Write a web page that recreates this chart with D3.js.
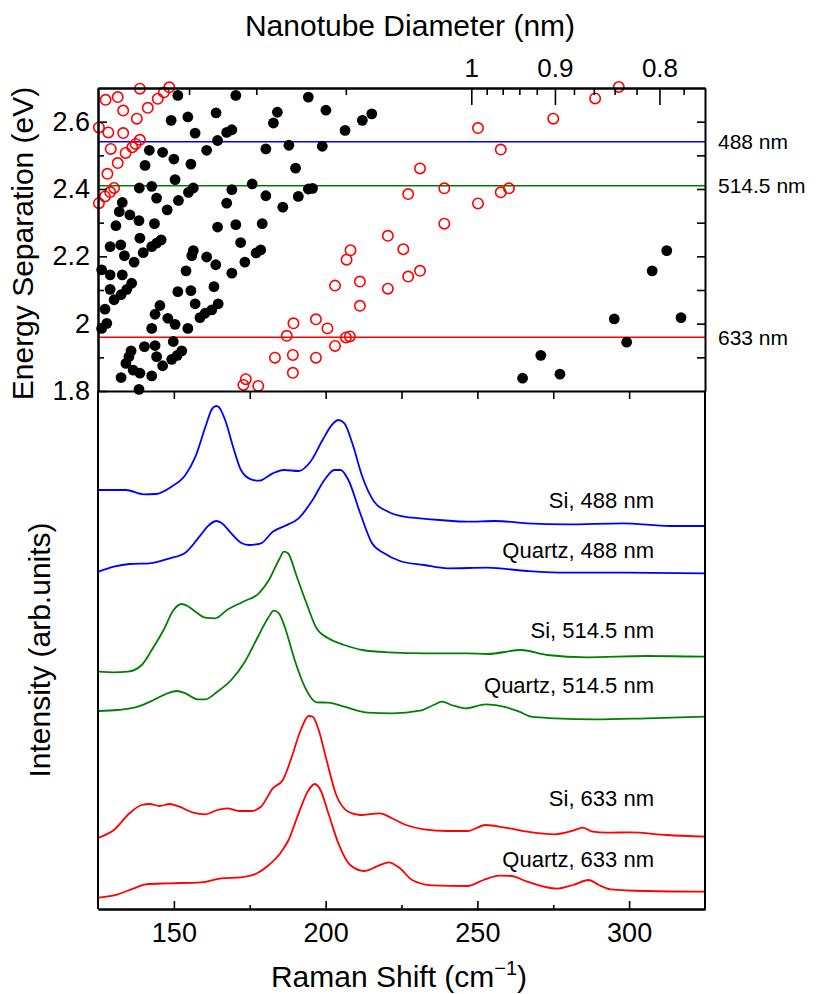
<!DOCTYPE html>
<html>
<head>
<meta charset="utf-8">
<script src="https://cdn.jsdelivr.net/npm/d3@7"></script>
<style>
  body { margin: 0; background: #fff; }
  svg text { font-family: "Liberation Sans", Arial, Helvetica, sans-serif; fill: #000; }
</style>
</head>
<body>
<svg id="chart" width="824" height="994"></svg>
<script>
// Kataura-type plot: black = filled dots, red = open circles (Raman shift cm-1, energy eV)
const blackPoints = [
  [151.3,2.678],[170.4,2.678],[194.3,2.673],[200.1,2.634],[149.1,2.604],[154.6,2.614],[163.9,2.626],[184.1,2.628],
  [182.8,2.596],[206.4,2.574],[157.0,2.566],[169.1,2.576],[167.4,2.568],[164.4,2.544],[160.8,2.515],[141.9,2.515],
  [146.3,2.509],[150.0,2.489],[140.5,2.470],[155.6,2.474],[180.3,2.519],[187.9,2.530],[198.9,2.527],[190.1,2.462],
  [150.4,2.428],[142.7,2.408],[138.6,2.403],[156.4,2.403],[154.8,2.390],[151.5,2.366],[144.3,2.373],[147.8,2.338],
  [169.1,2.398],[167.4,2.358],[175.8,2.415],[180.3,2.380],[185.9,2.346],[191.0,2.378],[194.3,2.400],[195.7,2.402],
  [133.0,2.360],[132.0,2.333],[135.5,2.323],[138.5,2.306],[130.9,2.291],[143.6,2.297],[138.8,2.254],[145.8,2.249],
  [144.3,2.239],[142.7,2.229],[139.9,2.211],[129.0,2.229],[132.5,2.234],[133.7,2.202],[136.9,2.183],[164.4,2.287],
  [170.4,2.294],[172.0,2.241],[179.1,2.297],[178.6,2.219],[177.1,2.210],[173.4,2.183],[169.1,2.150],[163.8,2.175],
  [160.8,2.198],[156.4,2.217],[155.9,2.202],[154.0,2.157],[126.2,2.160],[129.0,2.145],[133.0,2.145],[129.0,2.102],
  [136.1,2.120],[134.5,2.102],[132.6,2.086],[130.3,2.071],[151.3,2.095],[155.6,2.098],[163.2,2.110],[157.0,2.059],
  [164.6,2.059],[162.5,2.041],[160.3,2.031],[158.6,2.018],[145.4,2.054],[143.8,2.028],[148.0,2.016],[150.4,1.998],
  [154.6,1.986],[142.7,1.986],[127.3,2.043],[127.9,2.001],[126.2,1.986],[140.3,1.932],[143.8,1.935],[135.9,1.919],
  [135.2,1.902],[134.2,1.882],[144.3,1.902],[146.3,1.875],[149.8,1.947],[152.6,1.919],[151.1,1.906],[149.3,1.894],
  [136.6,1.862],[138.8,1.853],[142.7,1.845],[132.6,1.840],[138.5,1.805],[212.1,2.604],[215.2,2.623],[264.9,1.838],
  [270.9,1.906],[277.2,1.850],[295.1,2.014],[299.2,1.945],[307.6,2.157],[312.4,2.217],[317.1,2.018]
];
const redPoints = [
  [127.5,2.665],[131.5,2.673],[138.8,2.698],[133.3,2.633],[137.8,2.609],[141.4,2.641],[144.7,2.668],[146.7,2.687],
  [148.5,2.702],[125.3,2.583],[128.4,2.568],[133.3,2.566],[129.2,2.519],[134.1,2.507],[136.3,2.524],[137.4,2.534],
  [138.8,2.546],[131.5,2.477],[128.1,2.445],[130.3,2.403],[129.0,2.391],[127.3,2.378],[125.3,2.358],[172.9,1.818],
  [173.7,1.835],[177.8,1.815],[183.3,1.899],[189.2,1.907],[189.2,1.854],[187.2,1.964],[189.4,2.001],[196.8,1.899],
  [196.8,2.013],[200.6,1.986],[203.1,1.934],[206.7,1.959],[208.0,1.962],[203.1,2.113],[206.9,2.190],[208.2,2.218],
  [211.3,2.125],[211.3,2.053],[220.5,2.261],[220.5,2.104],[225.6,2.221],[227.2,2.140],[231.1,2.157],[231.1,2.461],
  [227.2,2.385],[239.1,2.402],[239.1,2.297],[250.2,2.581],[250.2,2.357],[257.7,2.517],[257.7,2.390],[260.4,2.402],
  [275.0,2.609],[288.8,2.669],[296.6,2.703]
];

const laserEnergies = [2.54, 2.41, 1.96];
const laserNames = ["488 nm", "514.5 nm", "633 nm"];
const laserColors = ["#0000ff", "#008000", "#ff0000"];

// diameter axis: omega = 248 / d
const diamConst = 248;
const diamMajor = [1, 0.9, 0.8];
const diamMajorLabels = ["1", "0.9", "0.8"];
const diamMinor = [1.6, 1.4, 1.2, 0.98, 0.96, 0.94, 0.92, 0.88, 0.86, 0.84, 0.82, 0.78];

const energyMajor = [1.8, 2.0, 2.2, 2.4, 2.6];
const energyMinor = [1.9, 2.1, 2.3, 2.5];
const energyRight = [1.9, 2.0, 2.1, 2.2, 2.3, 2.4, 2.5, 2.6];
const shiftMajor = [150, 200, 250, 300];
const shiftMinor = [175, 225, 275];
const shiftMid = [150, 175, 200, 225, 250, 275, 300];

// spectra [Raman shift, intensity incl. offset] (arb. units)
const si488 = [[125.2,419],[134.2,419],[140.1,414.7],[144.0,415],[149.2,422.3],[153.8,434],[157.1,452.3],[160.4,482.3],
  [162.7,500.7],[164.0,503],[164.9,501.7],[166.9,489],[169.5,462.3],[172.1,439],[175.4,429.7],[178.0,428.3],[182.6,435.7],
  [186.2,439],[191.1,438],[195.0,447.3],[199.0,469],[202.3,485],[204.2,489],[206.2,485.7],[208.8,465.7],[212.1,432.3],
  [216.0,407.3],[220.6,397.3],[225.8,392.3],[231.1,390.7],[237.6,389],[246.8,387.3],[255.9,388],[266.4,385.7],
  [279.5,384.7],[297.8,385.7],[313.6,383],[325,383]];
const quartz488 = [[125.2,337.3],[130.2,342.3],[135.4,345],[142.0,345.7],[148.6,350.7],[153.8,356.3],[158.4,372.3],
  [161.6,384],[164.0,388],[165.6,386.3],[168.9,375.7],[172.1,366.3],[174.8,364],[178.7,365.7],[182.6,377.3],[186.5,383],
  [191.1,390.7],[195.7,409],[199.6,429],[202.9,439],[204.9,439],[207.5,429],[211.4,395.7],[215.3,365.7],[219.3,355.7],
  [224.5,348],[232.4,344],[240.2,340.7],[253.3,341.3],[266.4,338],[279.5,336.3],[299.2,336.3],[325,335.7]];
const si514 = [[125.2,237.3],[130.2,236.7],[134.8,237.3],[139.4,244],[142.7,259],[146.6,279],[149.9,299],[152.5,305],
  [154.5,303],[157.1,297.3],[160.4,291.3],[163.6,290.7],[167.5,299],[172.8,307.3],[178.0,315.7],[181.3,329],[184.6,349],
  [186.3,357.3],[187.6,355.7],[190.5,332.3],[193.7,305.7],[197.0,280.7],[200.9,270.7],[206.2,264],[212.1,259],
  [220.6,256.7],[233.7,255.7],[246.8,255.7],[253.3,255],[264.5,259],[273.0,254],[286.1,251.7],[305.7,253],[325,252.3]];
const quartz514 = [[125.2,198],[131.5,199],[138.1,202.3],[143.3,209],[147.9,215.7],[150.9,218],[153.8,215.7],
  [157.7,209.7],[160.4,209.7],[164.3,217.3],[168.9,229],[173.4,247.3],[178.0,274],[181.3,292.3],[182.9,298.3],
  [184.6,295.7],[186.5,282.3],[189.8,249],[193.1,222.3],[197.0,206.7],[200.9,206.3],[206.2,202.3],[214.0,196.3],
  [221.9,195.7],[231.1,198.3],[235.6,204],[238.3,207.3],[241.5,204],[246.1,200.7],[252.7,204.7],[258.6,202.3],
  [263.8,197.3],[267.7,192.3],[275.6,190.7],[288.7,189.7],[305.7,190.7],[325,192.3]];
const si633 = [[125.2,71.3],[130.2,79],[135.4,95.7],[139.4,104],[142.0,105],[145.3,103],[148.6,105],[151.8,102.3],
  [156.4,96.3],[160.4,94.7],[164.3,99],[167.5,100.7],[171.5,98],[175.4,98],[178.7,102.3],[182.6,120.7],[185.9,129],
  [188.5,149],[191.8,179],[194.4,193],[195.7,192.3],[197.7,179],[200.3,149],[203.5,114],[207.5,97.3],[211.4,94],
  [217.9,95.7],[221.9,90.7],[226.5,84],[232.4,79.7],[240.2,78],[246.8,78],[252.7,84],[258.6,81.7],[266.4,77.3],
  [275.6,74.7],[281.5,78.3],[284.7,81.3],[288.0,77.3],[292.6,76.3],[300.5,76.7],[312.3,74],[325,72.3]];
const quartz633 = [[125.2,11.3],[131.5,14.7],[136.8,20.7],[140.7,24.7],[148.6,25.7],[159.0,26.7],[165.6,30.7],
  [172.1,31.7],[177.4,35.7],[181.3,44],[185.2,56.3],[187.8,69],[191.1,95.7],[194.4,119],[196.4,125],[198.3,119],
  [200.9,95.7],[204.2,65.7],[208.1,44],[212.7,38],[216.7,42.3],[220.8,46.7],[224.5,40.7],[228.5,29],[235.0,23.7],
  [246.8,23],[252.0,29],[257.3,33.3],[261.2,33],[266.4,27.3],[276.2,20.3],[281.5,24],[286.7,29],[290.0,24],
  [293.9,19.7],[305.7,18],[325,17.3]];

const spectra = [si488, quartz488, si514, quartz514, si633, quartz633];
const spectrumNames = ["Si, 488 nm", "Quartz, 488 nm", "Si, 514.5 nm", "Quartz, 514.5 nm", "Si, 633 nm", "Quartz, 633 nm"];
const spectrumColors = ["#0000ff", "#0000ff", "#008000", "#008000", "#ff0000", "#ff0000"];
const labelShift = 308.2;
const labelIntensity = [401, 351, 271, 216, 103, 42];

const left = 98, right = 705, topY = 88, midY = 391, bottomY = 909;

const svg = d3.select("#chart");

const x = d3.scaleLinear().domain([125, 325]).range([left, right]);
const yE = d3.scaleLinear().domain([1.8, 2.7]).range([midY, topY]);
const yI = d3.scaleLinear().domain([0, 518]).range([bottomY, midY]);

function styleAxis(g, fontSize) {
  g.selectAll("path.domain").attr("stroke", "#000").attr("stroke-width", 2);
  g.selectAll(".tick line").attr("stroke", "#000").attr("stroke-width", 1.6);
  g.selectAll(".tick text").attr("font-size", fontSize).attr("font-family", null).attr("fill", "#000");
  g.attr("font-family", null);
}

// ---- top panel ----
svg.append("g")
  .selectAll("line")
  .data(laserEnergies)
  .join("line")
  .attr("x1", left).attr("x2", right)
  .attr("y1", d => yE(d)).attr("y2", d => yE(d))
  .attr("stroke", (d, i) => laserColors[i])
  .attr("stroke-width", 1.5);

svg.append("g")
  .selectAll("circle")
  .data(blackPoints)
  .join("circle")
  .attr("cx", d => x(d[0]))
  .attr("cy", d => yE(d[1]))
  .attr("r", 5.4)
  .attr("fill", "#000");

svg.append("g")
  .selectAll("circle")
  .data(redPoints)
  .join("circle")
  .attr("cx", d => x(d[0]))
  .attr("cy", d => yE(d[1]))
  .attr("r", 5.2)
  .attr("fill", "none")
  .attr("stroke", "#ff0000")
  .attr("stroke-width", 1.6);

// left energy axis
svg.append("g")
  .attr("transform", `translate(${left},0)`)
  .call(d3.axisLeft(yE).tickValues(energyMajor).tickSize(-9).tickSizeOuter(0).tickPadding(8).tickFormat(d3.format("~g")))
  .call(g => styleAxis(g, 27));
svg.append("g")
  .attr("transform", `translate(${left},0)`)
  .call(d3.axisLeft(yE).tickValues(energyMinor).tickSize(-6).tickSizeOuter(0).tickFormat(""))
  .call(g => styleAxis(g, 27));

// right energy axis
svg.append("g")
  .attr("transform", `translate(${right},0)`)
  .call(d3.axisRight(yE).tickValues(energyRight).tickSize(-8).tickSizeOuter(0).tickFormat(""))
  .call(g => styleAxis(g, 27));

// top diameter axis
svg.append("g")
  .attr("transform", `translate(0,${topY})`)
  .call(d3.axisTop(x).tickValues(diamMajor.map(d => diamConst / d)).tickSize(-17).tickSizeOuter(0)
    .tickPadding(11).tickFormat((d, i) => diamMajorLabels[i]))
  .call(g => styleAxis(g, 26));
svg.append("g")
  .attr("transform", `translate(0,${topY})`)
  .call(d3.axisTop(x).tickValues(diamMinor.map(d => diamConst / d)).tickSize(-7).tickSizeOuter(0).tickFormat(""))
  .call(g => styleAxis(g, 26));

// panel separator with ticks into lower panel
svg.append("g")
  .attr("transform", `translate(0,${midY})`)
  .call(d3.axisBottom(x).tickValues(shiftMid).tickSize(8).tickSizeOuter(0).tickFormat(""))
  .call(g => styleAxis(g, 27));

// right-side laser labels
svg.append("g")
  .selectAll("text")
  .data(laserNames)
  .join("text")
  .attr("x", right + 13)
  .attr("y", (d, i) => yE(laserEnergies[i]) + 7.5)
  .attr("font-size", 21)
  .text(d => d);

// ---- bottom panel ----
const line = d3.line()
  .x(d => x(d[0]))
  .y(d => yI(d[1]))
  .curve(d3.curveMonotoneX);

svg.append("g")
  .selectAll("path")
  .data(spectra)
  .join("path")
  .attr("d", line)
  .attr("fill", "none")
  .attr("stroke", (d, i) => spectrumColors[i])
  .attr("stroke-width", 1.8);

svg.append("g")
  .selectAll("text")
  .data(spectrumNames)
  .join("text")
  .attr("x", x(labelShift))
  .attr("y", (d, i) => yI(labelIntensity[i]))
  .attr("text-anchor", "end")
  .attr("font-size", 22)
  .text(d => d);

// bottom axis
svg.append("g")
  .attr("transform", `translate(0,${bottomY})`)
  .call(d3.axisBottom(x).tickValues(shiftMajor).tickSize(-8).tickSizeOuter(0).tickPadding(14).tickFormat(d3.format("d")))
  .call(g => styleAxis(g, 27));
svg.append("g")
  .attr("transform", `translate(0,${bottomY})`)
  .call(d3.axisBottom(x).tickValues(shiftMinor).tickSize(-4).tickSizeOuter(0).tickFormat(""))
  .call(g => styleAxis(g, 27));

// side frame of the lower panel
svg.append("g")
  .selectAll("line")
  .data([left, right])
  .join("line")
  .attr("x1", d => d).attr("x2", d => d)
  .attr("y1", midY).attr("y2", bottomY)
  .attr("stroke", "#000")
  .attr("stroke-width", 2);

// ---- titles ----
svg.append("text")
  .attr("x", 410).attr("y", 36)
  .attr("text-anchor", "middle")
  .attr("font-size", 30)
  .text("Nanotube Diameter (nm)");

const xt = svg.append("text")
  .attr("x", 399).attr("y", 987)
  .attr("text-anchor", "middle")
  .attr("font-size", 30);
xt.append("tspan").text("Raman Shift (cm");
xt.append("tspan").attr("font-size", 20).attr("dy", -12).text("\u22121");
xt.append("tspan").attr("dy", 12).text(")");

svg.append("text")
  .attr("transform", `translate(33,${(topY + midY) / 2 + 4}) rotate(-90)`)
  .attr("text-anchor", "middle")
  .attr("font-size", 30)
  .text("Energy Separation (eV)");

svg.append("text")
  .attr("transform", `translate(50,${(midY + bottomY) / 2}) rotate(-90)`)
  .attr("text-anchor", "middle")
  .attr("font-size", 30)
  .text("Intensity (arb.units)");
</script>
</body>
</html>
